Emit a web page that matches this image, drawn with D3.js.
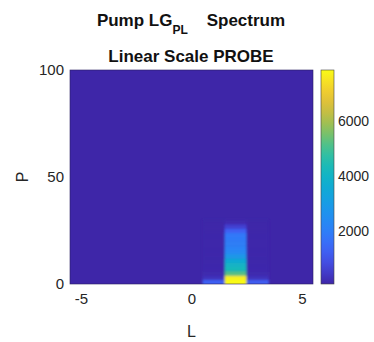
<!DOCTYPE html>
<html>
<head>
<meta charset="utf-8">
<style>
    body { margin: 0; background: #ffffff; }
    text { font-family: "Liberation Sans", Arial, sans-serif; fill: #262626; }
    .title { font-weight: bold; font-size: 17px; fill: #111111; white-space: pre; }
    .axis text { font-size: 15px; }
    .cbar text { font-size: 14px; }
    .label { font-size: 16px; }
</style>
<script src="https://cdn.jsdelivr.net/npm/d3@7"></script>
<title>Pump LG Spectrum</title>
</head>
<body>
<svg width="374" height="342"></svg>
<script>
    // Data
    var lValues = [-5, -4, -3, -2, -1, 0, 1, 2, 3, 4, 5];
    var pRows = [0, 2, 4, 6, 8, 10, 12, 14, 16, 18, 20, 22, 24, 26, 28];
    var pStep = 2;
    var background = 73;
    // intensities per P row (bottom up) for the columns that are not background
    var colL1 = [1300, 300, 150, 120, 110, 100, 100, 100, 100, 100, 100, 100, 90, 80, 73];
    var colL2 = [7855, 7700, 5200, 4300, 4000, 3600, 2900, 2350, 2150, 2050, 1950, 1850, 1300, 600, 150];
    var colL3 = [1200, 300, 150, 120, 110, 100, 100, 100, 100, 100, 100, 100, 90, 80, 73];
    var lTicks = [-5, 0, 5];
    var pTicks = [0, 50, 100];
    var cTicks = [2000, 4000, 6000];
    var cLimits = [73, 7855];

    var columns = [
        { l: 1, values: colL1 },
        { l: 2, values: colL2 },
        { l: 3, values: colL3 }
    ];

    // parula colormap
    var parula = d3.interpolateRgbBasis([
        "rgb(62,38,168)", "rgb(72,87,248)", "rgb(44,129,251)", "rgb(24,156,232)",
        "rgb(7,180,200)", "rgb(50,196,160)", "rgb(165,191,70)", "rgb(245,186,58)",
        "rgb(249,251,21)"
    ]);
    var color = d3.scaleSequential(parula).domain(cLimits).clamp(true);
    var plain = function (d) { return String(d); };

    var svg = d3.select("svg");
    var x = d3.scaleLinear().domain([-5.5, 5.5]).range([70, 313]);
    var y = d3.scaleLinear().domain([0, 100]).range([284, 70]);

    var defs = svg.append("defs");
    defs.append("clipPath").attr("id", "plotclip")
        .append("rect")
        .attr("x", x(-5.5)).attr("y", y(100))
        .attr("width", x(5.5) - x(-5.5)).attr("height", y(0) - y(100));
    defs.append("filter").attr("id", "soft")
        .attr("x", "-10%").attr("y", "-10%").attr("width", "120%").attr("height", "120%")
        .append("feGaussianBlur").attr("stdDeviation", 0.9);

    var plot = svg.append("g").attr("clip-path", "url(#plotclip)");
    plot.append("rect")
        .attr("x", x(-5.5)).attr("y", y(100))
        .attr("width", x(5.5) - x(-5.5)).attr("height", y(0) - y(100))
        .attr("fill", color(background));

    var cells = [];
    columns.forEach(function (c) {
        c.values.forEach(function (v, i) {
            cells.push({ l: c.l, p: pRows[i], v: v });
        });
    });

    plot.append("g").attr("filter", "url(#soft)")
        .selectAll("rect")
        .data(cells)
        .enter()
        .append("rect")
        .attr("x", function (d) { return x(d.l - 0.5); })
        .attr("y", function (d) { return y(d.p + pStep); })
        .attr("width", function (d) { return x(d.l + 0.5) - x(d.l - 0.5); })
        .attr("height", function (d) { return y(d.p) - y(d.p + pStep) + (d.p === 0 ? 3 : 0.3); })
        .attr("fill", function (d) { return color(d.v); });

    svg.append("rect")
        .attr("x", x(-5.5)).attr("y", y(100))
        .attr("width", x(5.5) - x(-5.5)).attr("height", y(0) - y(100))
        .attr("fill", "none").attr("stroke", "#2a2060").attr("stroke-width", 0.6);

    // axes
    var xAxis = svg.append("g").attr("class", "axis")
        .attr("transform", "translate(0," + y(0) + ")")
        .call(d3.axisBottom(x).tickValues(lTicks).tickFormat(plain).tickSize(0).tickPadding(9));
    xAxis.select(".domain").remove();

    var yAxis = svg.append("g").attr("class", "axis")
        .attr("transform", "translate(" + x(-5.5) + ",0)")
        .call(d3.axisLeft(y).tickValues(pTicks).tickFormat(plain).tickSize(0).tickPadding(6));
    yAxis.select(".domain").remove();

    svg.append("text").attr("class", "label")
        .attr("x", x(0)).attr("y", 337)
        .attr("text-anchor", "middle").text("L");
    svg.append("text").attr("class", "label")
        .attr("transform", "translate(28," + y(50) + ") rotate(-90)")
        .attr("text-anchor", "middle").text("P");

    // colorbar
    var cb = { x: 321, w: 13 };
    var cScale = d3.scaleLinear().domain(cLimits).range([284, 70]);
    var grad = defs.append("linearGradient").attr("id", "cbgrad")
        .attr("x1", 0).attr("y1", 1).attr("x2", 0).attr("y2", 0);
    d3.range(0, 1.0001, 0.05).forEach(function (t) {
        grad.append("stop").attr("offset", t).attr("stop-color", parula(t));
    });
    svg.append("rect")
        .attr("x", cb.x).attr("y", cScale(cLimits[1]))
        .attr("width", cb.w).attr("height", cScale(cLimits[0]) - cScale(cLimits[1]))
        .attr("fill", "url(#cbgrad)")
        .attr("stroke", "#444444").attr("stroke-width", 0.6);
    var cAxis = svg.append("g").attr("class", "axis cbar")
        .attr("transform", "translate(" + (cb.x + cb.w) + ",0)")
        .call(d3.axisRight(cScale).tickValues(cTicks).tickFormat(plain).tickSize(0).tickPadding(4));
    cAxis.select(".domain").remove();

    // title
    var t1 = svg.append("text").attr("class", "title")
        .attr("x", 191).attr("y", 26).attr("text-anchor", "middle");
    t1.append("tspan").text("Pump LG");
    t1.append("tspan").attr("dy", 8).attr("font-size", "12px").text("PL");
    t1.append("tspan").attr("dy", -8).text("    Spectrum");
    svg.append("text").attr("class", "title")
        .attr("x", 191).attr("y", 62).attr("text-anchor", "middle")
        .text("Linear Scale PROBE");
</script>
</body>
</html>
